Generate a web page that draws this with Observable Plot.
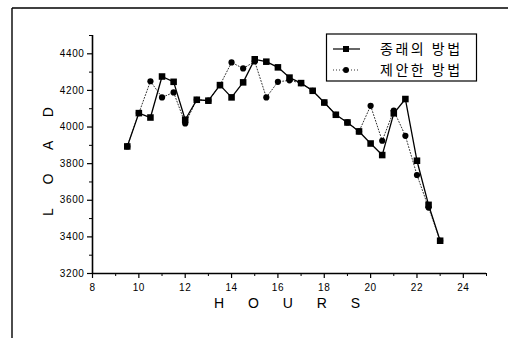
<!DOCTYPE html>
<html>
<head>
<meta charset="utf-8">
<script src="https://cdn.jsdelivr.net/npm/d3@7"></script>
<script src="https://cdn.jsdelivr.net/npm/@observablehq/plot@0.6"></script>
<style>
  html, body { margin: 0; padding: 0; background: #fff; }
  svg { display: block; }
</style>
</head>
<body>
<div id="chart"></div>
<script>
const hours = [9.5, 10, 10.5, 11, 11.5, 12, 12.5, 13, 13.5, 14, 14.5, 15, 15.5, 16, 16.5, 17, 17.5, 18, 18.5, 19, 19.5, 20, 20.5, 21, 21.5, 22, 22.5, 23];
const conventional = [3894, 4076, 4052, 4276, 4247, 4040, 4149, 4144, 4229, 4162, 4244, 4370, 4357, 4326, 4270, 4240, 4198, 4134, 4067, 4025, 3976, 3910, 3847, 4075, 4153, 3816, 3575, 3379];
const proposed = [3894, 4076, 4250, 4162, 4189, 4020, 4149, 4144, 4229, 4353, 4320, 4358, 4162, 4247, 4255, 4240, 4198, 4134, 4067, 4025, 3976, 4116, 3925, 4090, 3952, 3738, 3560, 3379];
const seriesNames = ["종래의 방법", "제안한 방법"];
const xMajorTicks = [8, 10, 12, 14, 16, 18, 20, 22, 24];
const xMinorTicks = [9, 11, 13, 15, 17, 19, 21, 23, 25];
const yMajorTicks = [3200, 3400, 3600, 3800, 4000, 4200, 4400];
const yMinorTicks = [3300, 3500, 3700, 3900, 4100, 4300, 4500];
const xLabel = "H O U R S";
const yLabel = "L O A D";

const convData = hours.map((h, i) => ({hour: h, load: conventional[i]}));
const propData = hours.map((h, i) => ({hour: h, load: proposed[i]}));

const font = "'Liberation Sans', Arial, sans-serif";

const chart = Plot.plot({
  width: 508,
  height: 338,
  marginLeft: 92,
  marginRight: 22,
  marginTop: 35,
  marginBottom: 65,
  style: {fontFamily: font, background: "#fff", color: "#000"},
  x: {domain: [8, 25]},
  y: {domain: [3200, 4500]},
  marks: [
    Plot.axisX({ticks: xMajorTicks, tickSize: 5, tickPadding: 5, fontSize: 10, label: null, stroke: "#000", strokeWidth: 1.2}),
    Plot.axisX({ticks: xMinorTicks, tickSize: 3, text: null, label: null, stroke: "#000"}),
    Plot.axisY({ticks: yMajorTicks, tickSize: 5, tickPadding: 3, fontSize: 10, label: null, stroke: "#000", strokeWidth: 1.2, tickFormat: d => String(d)}),
    Plot.axisY({ticks: yMinorTicks, tickSize: 3, text: null, label: null, stroke: "#000"}),
    Plot.ruleY([3200], {stroke: "#000", strokeWidth: 1.6}),
    Plot.ruleX([8], {stroke: "#000", strokeWidth: 1.6}),
    Plot.line(propData, {x: "hour", y: "load", stroke: "#333", strokeWidth: 1, strokeDasharray: "1,2"}),
    Plot.line(convData, {x: "hour", y: "load", stroke: "#000", strokeWidth: 1.3}),
    Plot.dot(propData, {x: "hour", y: "load", symbol: "circle", r: 3.1, fill: "#000", stroke: "none"}),
    Plot.dot(convData, {x: "hour", y: "load", symbol: "square", r: 3.7, fill: "#000", stroke: "none"})
  ]
});

document.getElementById("chart").appendChild(chart);

const svg = d3.select(chart);
svg.selectAll("g[aria-label='y-axis tick label'] text, g[aria-label='x-axis tick label'] text").style("letter-spacing", "0.6px");

// outer frame (top and left edges)
svg.append("line").attr("x1", 12).attr("y1", 8).attr("x2", 508).attr("y2", 8).attr("stroke", "#000").attr("stroke-width", 1.4);
svg.append("line").attr("x1", 12).attr("y1", 8).attr("x2", 12).attr("y2", 338).attr("stroke", "#000").attr("stroke-width", 1.4);

// axis titles
svg.append("text").attr("x", 214).attr("y", 308).attr("text-anchor", "start")
  .attr("font-family", font).attr("font-size", 14).style("letter-spacing", "10px")
  .text(xLabel);
svg.append("text").attr("transform", "translate(53,216) rotate(-90)").attr("text-anchor", "start")
  .attr("font-family", font).attr("font-size", 14).style("letter-spacing", "10.2px")
  .text(yLabel);

// legend
const lg = svg.append("g");
lg.append("rect").attr("x", 326.5).attr("y", 34).attr("width", 150).attr("height", 47)
  .attr("fill", "#fff").attr("stroke", "#000").attr("stroke-width", 1.2);
const rows = [
  {y: 49, dash: null, sym: "square", name: seriesNames[0]},
  {y: 70, dash: "1,2", sym: "circle", name: seriesNames[1]}
];
rows.forEach(r => {
  lg.append("line").attr("x1", 333).attr("x2", 360).attr("y1", r.y).attr("y2", r.y)
    .attr("stroke", r.dash ? "#333" : "#000").attr("stroke-width", r.dash ? 1 : 1.2)
    .attr("stroke-dasharray", r.dash);
  if (r.sym === "square") {
    lg.append("rect").attr("x", 343).attr("y", r.y - 3).attr("width", 6).attr("height", 6).attr("fill", "#000");
  } else {
    lg.append("circle").attr("cx", 346).attr("cy", r.y).attr("r", 3).attr("fill", "#000");
  }
  lg.append("text").attr("x", 380).attr("y", r.y + 5).attr("text-anchor", "start")
    .attr("font-family", "'Noto Sans CJK KR', sans-serif").attr("font-size", 14)
    .style("letter-spacing", "2.5px")
    .text(r.name);
});
</script>
</body>
</html>
